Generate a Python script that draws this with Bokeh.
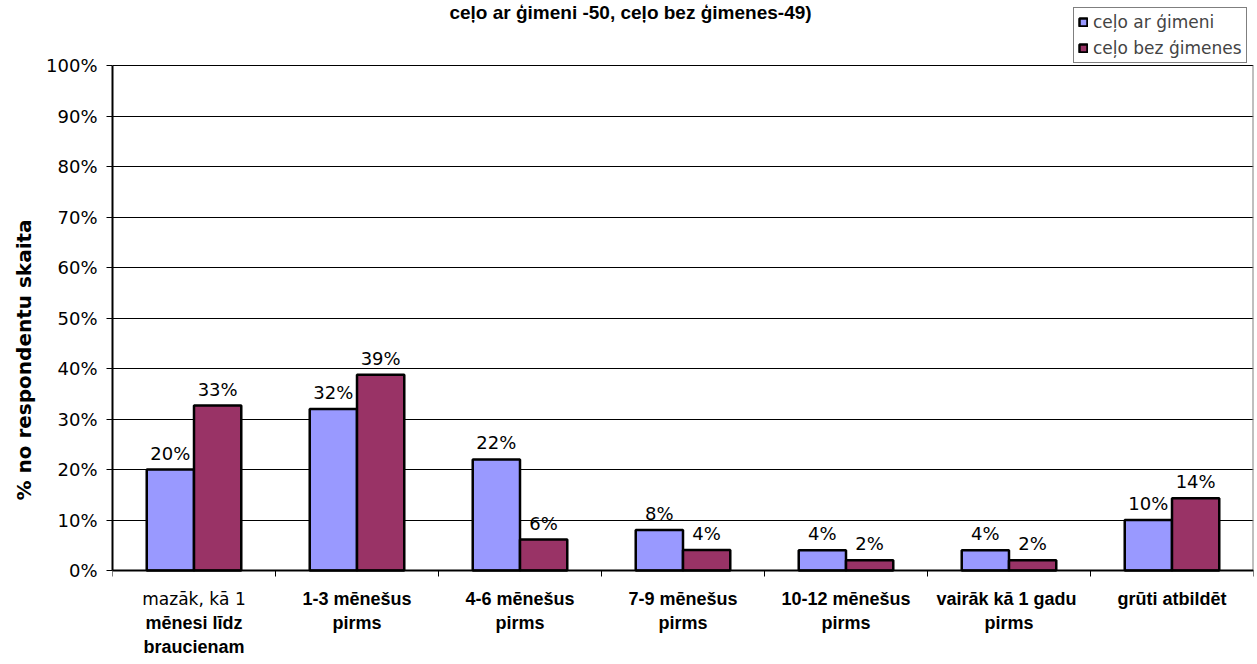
from bokeh.plotting import figure
from bokeh.models import (Range1d, FixedTicker, PrintfTickFormatter, Legend, LegendItem,
                          Label, ColumnDataSource, LinearAxis, Title)
from bokeh.core.properties import value
from bokeh.embed import file_html
from bokeh.resources import INLINE
import numpy as np

# ---------------- data ----------------
categories = ["mazāk, kā 1 mēnesi līdz braucienam", "1-3 mēnešus pirms", "4-6 mēnešus pirms",
              "7-9 mēnešus pirms", "10-12 mēnešus pirms", "vairāk kā  1 gadu pirms", "grūti atbildēt"]
category_tick_labels = ["\nmēnesi līdz\nbraucienam", "1-3 mēnešus\npirms", "4-6 mēnešus\npirms",
                        "7-9 mēnešus\npirms", "10-12 mēnešus\npirms", "vairāk kā  1 gadu\npirms",
                        "grūti atbildēt"]
first_label_top_line = "mazāk, kā 1"
series_names = ["ceļo ar ģimeni", "ceļo bez ģimenes"]
with_family = [20, 32, 22, 8, 4, 4, 10]                       # n = 50
without_family = [32.65, 38.78, 6.12, 4.08, 2.04, 2.04, 14.29]  # n = 49
y_ticks = [0, 10, 20, 30, 40, 50, 60, 70, 80, 90, 100]
title_text = "ceļo ar ģimeni -50, ceļo bez ģimenes-49)"
y_axis_title = "% no respondentu skaita"

# ---------------- layout / styling ----------------
BLUE = "#9999FF"
RED = "#993366"
BAR_W = 0.29
FONT = "DejaVu Sans"
BOLD_FONT = "Liberation Sans"
W, H = 1257, 664
PX_TOP, PX_ZERO = 65, 570          # pixel rows of 100 % and 0 %
unit = 100.0 / (PX_ZERO - PX_TOP)
y_start = -(H - PX_ZERO) * unit
y_end = 100 + PX_TOP * unit

n = len(categories)
centers = np.arange(n) + 0.5

p = figure(width=W, height=H, x_range=Range1d(0, n), y_range=Range1d(y_start, y_end),
           x_axis_location=None, min_border_left=112, min_border_right=4,
           min_border_top=0, min_border_bottom=0,
           output_backend="svg", toolbar_location=None, title=None)
p.background_fill_color = "white"
p.border_fill_color = "white"
p.outline_line_color = None

src_a = ColumnDataSource(dict(x=centers - BAR_W / 2, top=with_family,
                              lbl=[f"{round(v)}%" for v in with_family]))
src_b = ColumnDataSource(dict(x=centers + BAR_W / 2, top=without_family,
                              lbl=[f"{round(v)}%" for v in without_family]))

# grid
p.xgrid.grid_line_color = None
p.ygrid.ticker = FixedTicker(ticks=y_ticks)
p.ygrid.grid_line_color = "black"
p.ygrid.grid_line_width = 1

# plot-area right border (grey)
p.segment(x0=[n], y0=[0], x1=[n], y1=[100], line_color="#808080", line_width=2)

r1 = p.vbar(x="x", top="top", bottom=0, width=BAR_W, source=src_a,
            fill_color=BLUE, line_color="black", line_width=2.5)
r2 = p.vbar(x="x", top="top", bottom=0, width=BAR_W, source=src_b,
            fill_color=RED, line_color="black", line_width=2.5)

for src in (src_a, src_b):
    p.text(x="x", y="top", text="lbl", source=src, text_align="center",
           text_baseline="bottom", y_offset=-6, text_font=value(FONT),
           text_font_size="18px", text_color="black")

# y axis
ya = p.yaxis[0]
ya.ticker = FixedTicker(ticks=y_ticks)
ya.bounds = (0, 100)
ya.formatter = PrintfTickFormatter(format="%d%%")
ya.major_tick_out = 6
ya.major_tick_in = 0
ya.minor_tick_line_color = None
ya.major_label_standoff = 9
ya.major_label_text_font = FONT
ya.major_label_text_font_size = "18px"
ya.major_label_text_color = "black"
ya.axis_line_color = "black"
ya.axis_line_width = 2
ya.major_tick_line_color = "black"

p.add_layout(Title(text=y_axis_title, align="left", offset=164, text_font=FONT,
                   text_font_style="bold", text_font_size="20px", text_color="black",
                   standoff=16), "left")

# x axis at y = 0: labels at category centres, ticks at category boundaries
xa = LinearAxis(fixed_location=0,
                ticker=FixedTicker(ticks=list(centers), minor_ticks=list(range(n + 1))))
xa.major_label_overrides = {float(c): t for c, t in zip(centers, category_tick_labels)}
xa.major_tick_line_color = None
xa.minor_tick_line_color = "black"
xa.minor_tick_out = 6
xa.minor_tick_in = 0
xa.axis_line_color = "black"
xa.axis_line_width = 2
xa.major_label_standoff = 12
xa.major_label_text_font = BOLD_FONT
xa.major_label_text_font_style = "bold"
xa.major_label_text_font_size = "18px"
xa.major_label_text_color = "black"
p.add_layout(xa, "below")

p.add_layout(Label(x=centers[0], y=0, y_offset=-28, text=first_label_top_line,
                   text_align="center", text_baseline="middle", text_font=FONT,
                   text_font_size="17px", text_color="black"))

# chart title (its upper line is cut off in the reference)
p.add_layout(Label(x=630 - 112, y=H - 12, x_units="screen", y_units="screen", text=title_text,
                   text_align="center", text_baseline="middle", text_font=BOLD_FONT,
                   text_font_style="bold", text_font_size="19px", text_color="black"))

legend = Legend(items=[LegendItem(label=series_names[0], renderers=[r1]),
                       LegendItem(label=series_names[1], renderers=[r2])],
                location=(1073 - 112, H - 63), orientation="vertical")
legend.border_line_color = "black"
legend.border_line_width = 1
legend.background_fill_color = "white"
legend.background_fill_alpha = 1
legend.glyph_width = 10
legend.glyph_height = 10
legend.label_standoff = 5
legend.label_text_font = FONT
legend.label_text_font_size = "17px"
legend.label_height = 20
legend.spacing = 6
legend.padding = 4
legend.margin = 0
p.add_layout(legend)

open("out.html", "w").write(file_html(p, INLINE))
